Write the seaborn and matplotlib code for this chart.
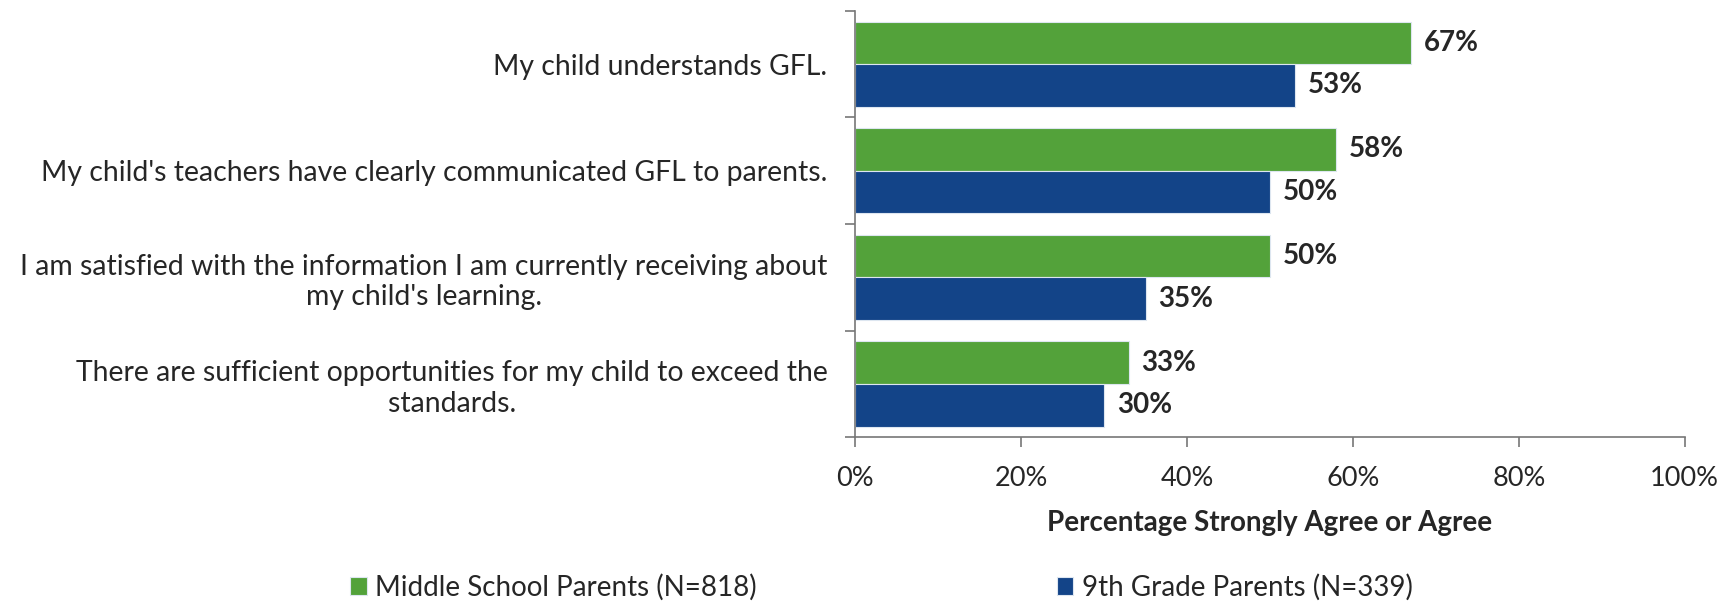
import pandas as pd
import matplotlib
matplotlib.use("Agg")
import matplotlib.pyplot as plt
import seaborn as sns

# chart data
statements = [
    "My child understands GFL.",
    "My child's teachers have clearly communicated GFL to parents.",
    "I am satisfied with the information I am currently receiving about\nmy child's learning.",
    "There are sufficient opportunities for my child to exceed the\nstandards.",
]
groups = ["Middle School Parents (N=818)", "9th Grade Parents (N=339)"]
middle_school = [67, 58, 50, 33]
ninth_grade = [53, 50, 35, 30]
x_ticks = [0, 20, 40, 60, 80, 100]

colors = ["#53A23A", "#134488"]

rows = []
for s, m, n in zip(statements, middle_school, ninth_grade):
    rows.append((s, groups[0], m))
    rows.append((s, groups[1], n))
df = pd.DataFrame(rows, columns=["statement", "group", "pct"])

sns.set_style("white")
plt.rcParams['font.family'] = ['Lato', 'DejaVu Sans']

fig = plt.figure(figsize=(17.35, 6.04), dpi=100)
ax = fig.add_axes([0.493, 0.276, 0.478, 0.706])

sns.barplot(data=df, y="statement", x="pct", hue="group", order=statements,
            hue_order=groups, palette=colors, saturation=1, orient="h", width=0.8,
            edgecolor="#dde6f0", linewidth=0.8, ax=ax, legend=True)

for cont in ax.containers:
    ax.bar_label(cont, fmt="%d%%", padding=9, fontsize=20, fontweight="bold")

ax.set_xlim(0, 100)
ax.set_ylim(3.5, -0.5)
ax.set_xticks(x_ticks)
ax.set_xticklabels([f"{t}%" for t in x_ticks], fontsize=19.5)
ax.set_xlabel("Percentage Strongly Agree or Agree", fontsize=20, fontweight="bold", labelpad=13)
ax.set_ylabel("")

ax.set_yticks(range(len(statements)))
ax.set_yticklabels(statements, fontsize=20.4)
plt.setp(ax.get_yticklabels(), multialignment="center")
ax.tick_params(axis="y", length=0, pad=20)
# category boundary ticks
ax.set_yticks([i - 0.5 for i in range(len(statements) + 1)], minor=True)
ax.tick_params(axis="y", which="minor", length=7, color="#777777", width=1.2, left=True)
ax.tick_params(axis="x", length=7, color="#777777", width=1.2, bottom=True, pad=14)

for side in ["top", "right"]:
    ax.spines[side].set_visible(False)
for side in ["left", "bottom"]:
    ax.spines[side].set_color("#777777")
    ax.spines[side].set_linewidth(1.2)

handles, labels = ax.get_legend_handles_labels()
ax.get_legend().remove()
fig.legend(handles, labels, loc="lower center", bbox_to_anchor=(0.508, -0.036), ncol=2,
           frameon=False, fontsize=20, handlelength=0.6, handleheight=0.6,
           handletextpad=0.3, columnspacing=10.8)

fig.savefig("out.png", dpi=100)
